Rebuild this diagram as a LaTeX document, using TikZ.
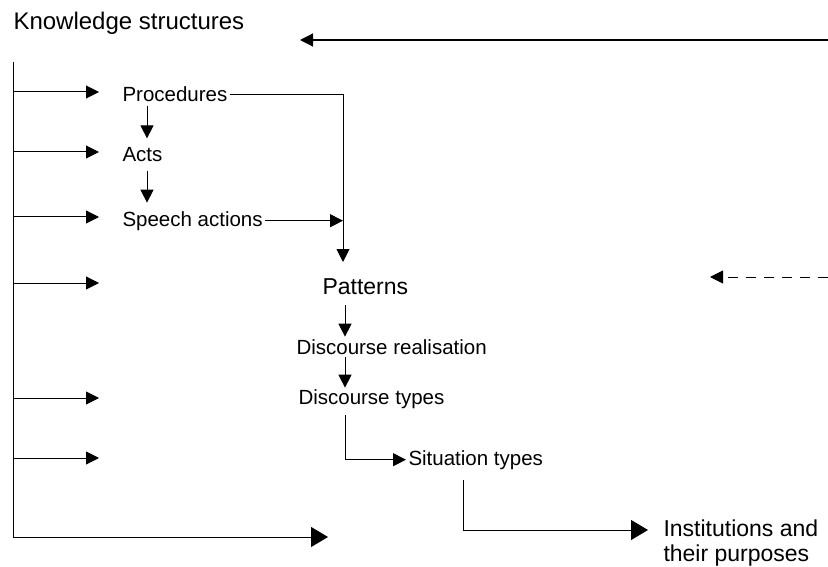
\documentclass[tikz,border=0pt]{standalone}
\usepackage{fontspec}
\setmainfont{Liberation Sans}
\usetikzlibrary{arrows.meta,calc}
\begin{document}
\begin{tikzpicture}[x=1pt,y=-1pt, line width=1pt,
  tip/.style={-{Triangle[length=13pt,width=13pt]}},
  bigtip/.style={-{Triangle[length=17pt,width=20pt]}},
  lbl/.style={anchor=base west, inner sep=0pt, font=\fontsize{20.5}{24}\selectfont},
  big/.style={anchor=base west, inner sep=0pt, font=\fontsize{23}{25}\selectfont}]
\useasboundingbox (0,0) rectangle (828,567);
% labels
\node[big, font=\fontsize{24}{26}\selectfont] (ks) at (13,30) {Knowledge structures};
\node[lbl] (proc) at (122,102) {Procedures};
\node[lbl] (acts) at (122,162) {Acts};
\node[lbl] (speech) at (122,226) {Speech actions};
\node[big] (pat) at (322,294) {Patterns};
\node[lbl] (dr) at (296,354) {Discourse realisation};
\node[lbl] (dt) at (298,404) {Discourse types};
\node[lbl] (st) at (408,465) {Situation types};
\node[big, anchor=north west, align=left] (inst) at (663,519.5) {Institutions and\\their purposes};
% free ends
\coordinate (topR) at (828,40);
\coordinate (topTip) at (300,40);
\coordinate (dashR) at (828,277);
\coordinate (dashTip) at (710,277);
\coordinate (Ltop) at (13,62);
\coordinate (Lbot) at (13,537);
\coordinate (botTip) at (328,537);
\coordinate (pv) at (343,262);
\coordinate (instTip) at (648,530);
% top and dashed arrows
\draw[tip, line width=1.2pt] (topR) -- (topTip);
\draw[tip, dash pattern=on 10pt off 8pt] (dashR) -- (dashTip);
% left spine
\draw[bigtip] (Ltop) -- (Lbot) -- (botTip);
\foreach \yy in {92,152,217,283,398,458}
  \draw[tip] (13,\yy) -- (99,\yy);
% procedures chain
\draw[tip] ($(proc.south west)+(25,3)$) -- ($(acts.north west)+(25,-9)$);
\draw[tip] ($(acts.south west)+(25,8)$) -- ($(speech.north west)+(25,-8)$);
\draw[tip] ([xshift=2pt]proc.east) -| (pv);
\draw[tip] ([xshift=2pt]speech.east) -- (speech.east -| pv);
% patterns chain
\draw[tip] (345,305) -- ($(dr.north west)+(49,-2)$);
\draw[tip] (345,357) -- ($(dt.north west)+(47,-1)$);
\draw[tip] ($(dt.south west)+(47,6)$) |- ([xshift=-2pt]st.west);
\draw[bigtip] ($(st.south west)+(55,10)$) |- (instTip);
\end{tikzpicture}
\end{document}
